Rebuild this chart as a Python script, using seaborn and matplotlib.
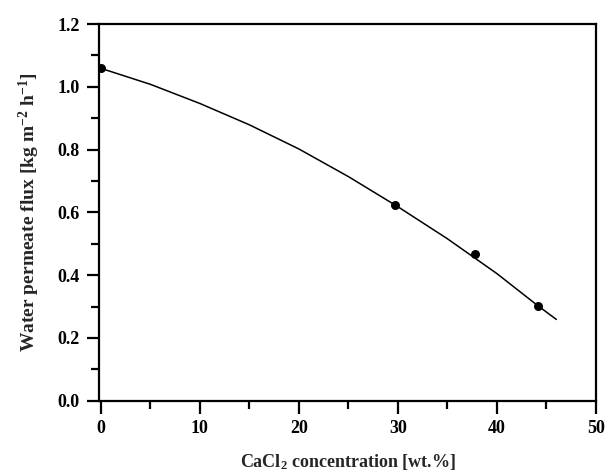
import matplotlib
matplotlib.use("Agg")
import matplotlib.pyplot as plt
import seaborn as sns
import pandas as pd
from matplotlib.ticker import MultipleLocator, FormatStrFormatter

# Measured data points
conc = [0.0, 29.7, 37.8, 44.1]
flux = [1.059, 0.622, 0.468, 0.302]

# Fitted curve
curve_x = [0, 5, 10, 15, 20, 25, 30, 35, 40, 44, 46]
curve_y = [1.059, 1.008, 0.947, 0.879, 0.802, 0.714, 0.618, 0.516, 0.405, 0.306, 0.259]

sns.set_theme(style="ticks")
plt.rcParams['font.family'] = ['Liberation Serif', 'DejaVu Serif']
plt.rcParams['font.weight'] = 'bold'
plt.rcParams['mathtext.fontset'] = 'custom'
plt.rcParams['mathtext.rm'] = 'Liberation Serif:bold'
plt.rcParams['mathtext.bf'] = 'Liberation Serif:bold'
plt.rcParams['mathtext.it'] = 'Liberation Serif:bold'

fig = plt.figure(figsize=(6.05, 4.72), dpi=100)
ax = fig.add_axes([0.164, 0.151, 0.821, 0.798])

pts = pd.DataFrame({"x": conc, "y": flux})
crv = pd.DataFrame({"x": curve_x, "y": curve_y})

sns.lineplot(data=crv, x="x", y="y", ax=ax, color="black", linewidth=1.1)
sns.scatterplot(data=pts, x="x", y="y", ax=ax, color="black", s=42,
                edgecolor="black", linewidth=0, zorder=5)

ax.set_xlim(-0.17, 50)
ax.set_ylim(0, 1.2)
ax.xaxis.set_major_locator(MultipleLocator(10))
ax.xaxis.set_minor_locator(MultipleLocator(5))
ax.yaxis.set_major_locator(MultipleLocator(0.2))
ax.yaxis.set_minor_locator(MultipleLocator(0.1))
ax.yaxis.set_major_formatter(FormatStrFormatter('%.1f'))

for s in ax.spines.values():
    s.set_linewidth(1.6)
    s.set_color("black")

ax.tick_params(which='major', direction='out', length=9, width=1.6,
               labelsize=13, colors='black')
ax.tick_params(axis='x', which='major', pad=5)
ax.tick_params(axis='y', which='major', pad=5)
ax.tick_params(which='minor', direction='out', length=5.5, width=1.6, colors='black')
ax.tick_params(top=False, right=False, which='both')
for lab in ax.get_xticklabels() + ax.get_yticklabels():
    lab.set_fontweight('bold')

ax.set_xlabel(r"CaCl$_{2}$ concentration [wt.%]", fontsize=13, fontweight='bold', labelpad=11)
ax.set_ylabel(r"Water permeate flux [kg m$^{-2}$ h$^{-1}$]", fontsize=14,
              fontweight='bold', labelpad=11)

fig.savefig("out.png", dpi=100)
